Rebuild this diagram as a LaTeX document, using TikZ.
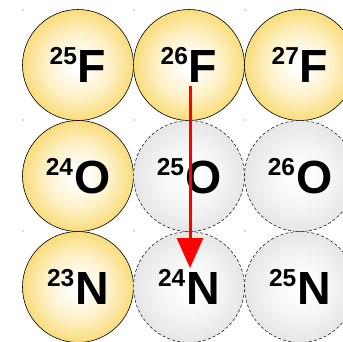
\documentclass[tikz,border=0pt]{standalone}
\usepackage{fontspec}
\setmainfont{Liberation Sans}
\usetikzlibrary{arrows.meta}
\definecolor{nucY}{HTML}{F9DC7A}
\definecolor{nucYm}{HTML}{FDF0C4}
\definecolor{nucG}{HTML}{E6E6E6}
\definecolor{nucGm}{HTML}{F3F3F3}
\pgfdeclareradialshading{yshade}{\pgfpoint{0bp}{0bp}}{color(0bp)=(white); color(3bp)=(white); color(15bp)=(nucYm); color(25bp)=(nucY); color(50bp)=(nucY)}
\pgfdeclareradialshading{gshade}{\pgfpoint{0bp}{0bp}}{color(0bp)=(white); color(3bp)=(white); color(15bp)=(nucGm); color(25bp)=(nucG); color(50bp)=(nucG)}
\newcommand{\isolab}[2]{{\bfseries\fontsize{24.5}{25}\selectfont\raisebox{17.5pt}{#1}}\hspace{1pt}{\bfseries\fontsize{46.5}{46}\selectfont #2}}
\tikzset{
  known/.style={circle, draw=black, line width=0.6pt, minimum size=111pt, inner sep=0pt,
    shading=yshade},
  unknown/.style={circle, draw=black, dash pattern=on 3pt off 2.2pt, line width=0.5pt, minimum size=111pt, inner sep=0pt,
    shading=gshade},
  lab/.style={inner sep=0pt, anchor=center},
  gdot/.style={fill=black!70, inner sep=0pt, minimum size=1.3pt, circle},
}
\begin{document}
\begin{tikzpicture}[x=1pt,y=-1pt]
\useasboundingbox (0,0) rectangle (343,341);
% grid dots
\foreach \gx/\gi in {23/a,134/b,245/c}{
  \foreach \gy/\gj in {10/a,120/b,231/c}{
    \node[gdot] (d\gi\gj) at (\gx,\gy) {};
  }
}
\node[known] (F25) at (78,65) {};
\node[known] (F26) at (189,65) {};
\node[known] (F27) at (300,65) {};
\node[known] (O24) at (78,176) {};
\node[unknown] (O25) at (189,176) {};
\node[unknown] (O26) at (300,176) {};
\node[known] (N23) at (78,287) {};
\node[unknown] (N24) at (189,287) {};
\node[unknown] (N25) at (300,287) {};
\node[lab] at (78,65) {\isolab{25}{F}};
\node[lab] at (189,65) {\isolab{26}{F}};
\node[lab] at (300,65) {\isolab{27}{F}};
\node[lab] at (78,176) {\isolab{24}{O}};
\node[lab] at (189,176) {\isolab{25}{O}};
\node[lab] at (300,176) {\isolab{26}{O}};
\node[lab] at (78,287) {\isolab{23}{N}};
\node[lab] at (189,287) {\isolab{24}{N}};
\node[lab] at (300,287) {\isolab{25}{N}};
\coordinate (as) at (190,86);
\coordinate (ae) at (190,268);
\draw[red, line width=3pt, -{Triangle[width=26pt,length=30pt]}] (as) -- (ae);
\end{tikzpicture}
\end{document}
